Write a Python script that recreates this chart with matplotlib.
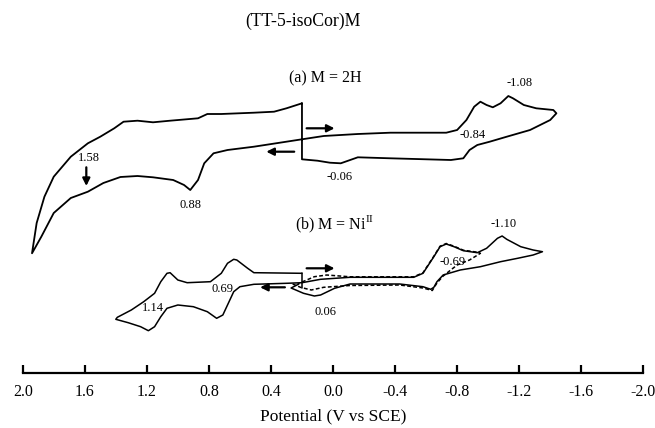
import matplotlib
matplotlib.use("Agg")
import matplotlib.pyplot as plt

plt.rcParams['font.family'] = ['Liberation Serif', 'DejaVu Serif']
plt.rcParams['mathtext.fontset'] = 'custom'
plt.rcParams['mathtext.rm'] = 'Liberation Serif'

# (a) M = 2H, potential (V vs SCE) and current (arbitrary units, stacked offset)
a_E = [0.20, 0.30, 0.38, 0.51, 0.72, 0.81, 0.87, 1.05, 1.16, 1.26, 1.35, 1.41, 1.50,
       1.58, 1.69, 1.80, 1.86, 1.91, 1.94,
       1.88, 1.80, 1.69, 1.58, 1.48, 1.37, 1.26, 1.16, 1.03, 0.96, 0.92, 0.87, 0.83,
       0.77, 0.68, 0.51, 0.20, 0.06, -0.16, -0.37, -0.73, -0.80, -0.86, -0.91, -0.95,
       -0.99, -1.03, -1.08, -1.13, -1.16, -1.23, -1.31, -1.42, -1.44,
       -1.40, -1.27, -1.12, -1.01, -0.93, -0.88, -0.84, -0.76, -0.37, -0.16, -0.05,
       0.02, 0.10, 0.20, 0.20]
a_I = [264.7, 259.7, 256.3, 255.3, 254.0, 254.0, 249.7, 247.3, 245.7, 247.3, 246.3, 239.7, 231.3,
       224.7, 211.3, 191.3, 171.3, 145.0, 114.7,
       131.3, 155.0, 170.0, 176.3, 185.0, 191.0, 192.0, 190.7, 188.0, 183.0, 178.0, 188.0, 204.7,
       214.7, 218.0, 221.3, 228.7, 232.0, 234.0, 235.3, 235.3, 238.0, 248.0, 261.3, 266.3,
       263.0, 260.7, 264.7, 272.0, 269.7, 263.0, 259.7, 258.0, 254.7,
       248.0, 238.0, 231.3, 226.3, 223.0, 218.0, 209.7, 208.0, 209.7, 210.7, 204.7,
       205.3, 207.3, 208.7, 264.7]

# (b) M = Ni(II), full scan (solid)
b_E = [0.20, 0.51, 0.55, 0.62, 0.64, 0.68, 0.72, 0.79, 0.94, 1.00, 1.05, 1.07, 1.11,
       1.15, 1.22, 1.30, 1.39, 1.40,
       1.32, 1.24, 1.19, 1.15, 1.11, 1.07, 1.00, 0.90, 0.81, 0.75, 0.71, 0.67, 0.64,
       0.60, 0.51, 0.30, 0.20, 0.08, -0.11, -0.52, -0.58, -0.65, -0.69, -0.73, -0.78,
       -0.84, -0.93, -0.99, -1.06, -1.09, -1.12, -1.21, -1.29, -1.35,
       -1.29, -1.19, -1.08, -0.95, -0.82, -0.71, -0.67, -0.65, -0.63, -0.58, -0.43,
       -0.11, -0.01, 0.08, 0.12, 0.19, 0.27, 0.22]
b_I = [94.7, 95.3, 99.7, 108.0, 108.7, 104.7, 94.7, 86.3, 85.3, 88.0, 95.3, 94.7, 86.3,
       74.7, 66.3, 58.0, 50.7, 48.7,
       45.3, 41.3, 37.3, 41.3, 51.3, 59.7, 63.0, 61.3, 56.3, 49.7, 53.0, 66.3, 76.3,
       81.3, 83.7, 84.7, 85.3, 88.7, 90.7, 90.7, 94.7, 111.3, 121.3, 124.0, 121.3,
       117.3, 115.3, 119.7, 129.7, 132.0, 128.7, 121.3, 118.0, 116.3,
       113.0, 109.7, 106.3, 101.3, 98.0, 93.0, 86.3, 80.7, 78.7, 81.3, 84.0,
       84.0, 79.7, 73.0, 72.0, 74.7, 80.0, 84.0]
b_start_E = [0.20, 0.20]
b_start_I = [95.3, 79.7]

# (b) first reduction only (dashed)
bd_E = [0.20, 0.12, 0.04, -0.11, -0.52, -0.58, -0.65, -0.69, -0.73, -0.78, -0.84, -0.93,
        -0.95, -0.88, -0.80, -0.71, -0.67, -0.64, -0.58, -0.43, -0.11, 0.06, 0.14, 0.21, 0.26]
bd_I = [86.0, 91.3, 93.0, 91.2, 91.2, 95.2, 111.8, 121.8, 124.5, 121.8, 117.8, 115.8,
        114.7, 108.0, 103.0, 92.0, 85.0, 77.5, 80.0, 83.0, 82.5, 80.7, 78.0, 80.7, 84.0]

# peak labels: (text, E, I)
labels = [("1.58", 1.57, 210), ("0.88", 0.92, 163), ("-0.06", -0.04, 191.3),
          ("-0.84", -0.90, 233), ("-1.08", -1.20, 284.7),
          ("-1.10", -1.10, 144), ("-0.69", -0.77, 106.3), ("0.69", 0.71, 78.7),
          ("1.14", 1.16, 59.7), ("0.06", 0.05, 56.3)]
panel_labels = [("(a) M = 2H", 0.05, 289.7), ("(b) M = Ni$^{\\mathrm{II}}$", -0.01, 144)]
# scan direction arrows: (E_from, I_from, E_to, I_to)
arrows = [(0.17, 239.7, -0.01, 239.7), (0.25, 216.3, 0.43, 216.3),
          (1.59, 200.7, 1.59, 182.0),
          (0.17, 99.7, -0.01, 99.7), (0.31, 80.7, 0.47, 80.7)]

ticks = [2.0, 1.6, 1.2, 0.8, 0.4, 0.0, -0.4, -0.8, -1.2, -1.6, -2.0]
tick_labels = ["2.0", "1.6", "1.2", "0.8", "0.4", "0.0", "-0.4", "-0.8", "-1.2", "-1.6", "-2.0"]

fig = plt.figure(figsize=(6.55, 4.28), dpi=100)
ax = fig.add_axes([22.7 / 655, 1 - 372.7 / 428, 620.6 / 655, 372.7 / 428])

style = dict(color='black', solid_joinstyle='round', solid_capstyle='round')
ax.plot(a_E, a_I, lw=1.3, **style)
ax.plot(b_E, b_I, lw=1.1, **style)
ax.plot(b_start_E, b_start_I, lw=1.1, **style)
ax.plot(bd_E, bd_I, color='black', lw=1.1, ls=(0, (2.5, 1.5)))

for txt, e, i in labels:
    ax.text(e, i, txt, fontsize=9, ha='center', va='center')
for txt, e, i in panel_labels:
    ax.text(e, i, txt, fontsize=11.5, ha='center', va='center')
for e0, i0, e1, i1 in arrows:
    ax.annotate("", xy=(e1, i1), xytext=(e0, i0),
                arrowprops=dict(arrowstyle='-|>', color='black', lw=1.6,
                                mutation_scale=11, shrinkA=0, shrinkB=0))

ax.set_xlim(2.0, -2.0)
ax.set_ylim(-4.7, 368)
ax.set_xticks(ticks)
ax.set_xticklabels(tick_labels)
ax.set_yticks([])
for s in ['left', 'right', 'top']:
    ax.spines[s].set_visible(False)
ax.spines['bottom'].set_linewidth(1.6)
ax.tick_params(axis='x', direction='in', length=6, width=1.6, pad=8, labelsize=11.5)
ax.set_xlabel("Potential (V vs SCE)", fontsize=12.5, labelpad=6)
ax.patch.set_alpha(0)

fig.text(303 / 655, 1 - 21.7 / 428, "(TT-5-isoCor)M", fontsize=12.8, ha='center', va='center')

fig.savefig("out.png", dpi=100)
